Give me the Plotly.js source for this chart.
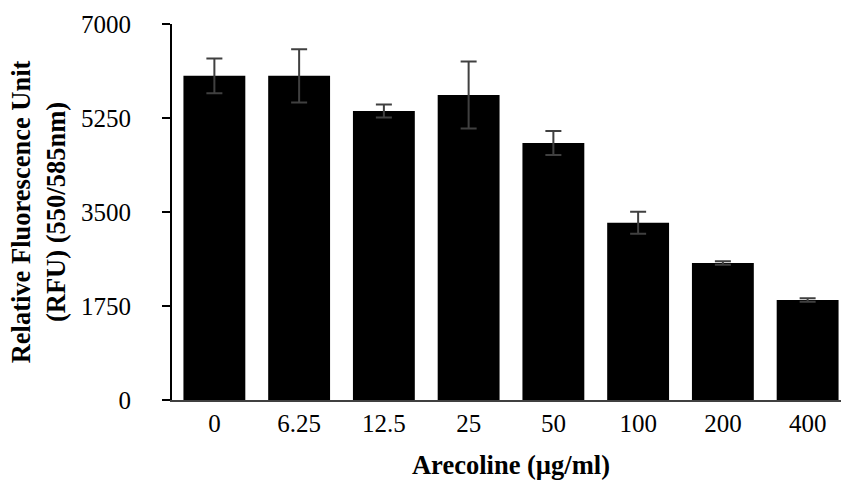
<!DOCTYPE html>
<html>
<head>
<meta charset="utf-8">
<script src="https://cdn.plot.ly/plotly-3.0.1.min.js"></script>
<style>html,body{margin:0;padding:0;background:#fff;overflow:hidden}#wrap{width:841px;height:480px;overflow:hidden}#chart{width:850px;height:480px}</style>
</head>
<body>
<div id="wrap"><div id="chart"></div></div>
<script>
const categories = ['0', '6.25', '12.5', '25', '50', '100', '200', '400'];
const rfuValues = [6035, 6035, 5380, 5680, 4785, 3300, 2550, 1862];
const rfuErrors = [325, 495, 121, 624, 223, 205, 33, 33];
const yTickValues = [0, 1750, 3500, 5250, 7000];
const yTickLabels = ['0', '1750', '3500', '5250', '7000'];

const trace = {
  type: 'bar',
  x: categories,
  y: rfuValues,
  marker: {color: '#000000', line: {width: 0}},
  error_y: {type: 'data', array: rfuErrors, visible: true, color: '#404040', thickness: 2, width: 8},
  hoverinfo: 'none'
};

const layout = {
  width: 850, height: 480,
  margin: {l: 172, r: 0, t: 24, b: 80},
  paper_bgcolor: '#ffffff', plot_bgcolor: '#ffffff',
  showlegend: false,
  bargap: 0.27,
  font: {family: '"Liberation Serif", "Times New Roman", serif', color: '#000000'},
  xaxis: {
    type: 'category',
    range: [-0.5, 7.5],
    showline: true, linecolor: '#404040', linewidth: 2,
    ticks: '', showgrid: false, zeroline: false,
    tickfont: {size: 25, color: '#000000'},
    ticklabelstandoff: 0,
    title: {text: '<b>Arecoline (µg/ml)</b>', font: {size: 26.5, color: '#000000'}, standoff: 31}
  },
  yaxis: {
    range: [0, 7000],
    tickmode: 'array', tickvals: yTickValues, ticktext: yTickLabels,
    showline: true, linecolor: '#000000', linewidth: 2,
    ticks: 'outside', ticklen: 8, tickwidth: 2, tickcolor: '#000000',
    showgrid: false, zeroline: false,
    tickfont: {size: 25, color: '#000000'},
    ticklabelstandoff: 26,
    title: {text: '<b>Relative Fluorescence Unit<br>(RFU) (550/585nm)</b>', font: {size: 26.5, color: '#000000'}, standoff: 8}
  }
};

Plotly.newPlot('chart', [trace], layout, {displayModeBar: false, staticPlot: true});
</script>
</body>
</html>
